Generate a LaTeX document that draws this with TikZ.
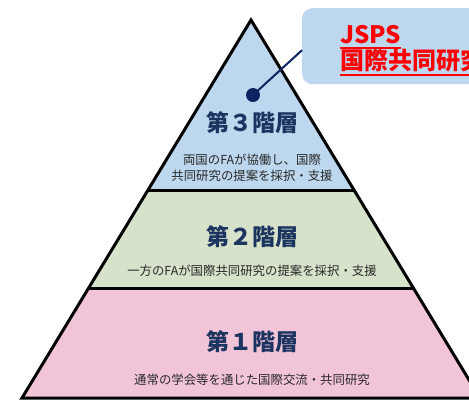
\documentclass[tikz,border=0pt]{standalone}
\usepackage{fontspec}
\setmainfont{Noto Sans CJK JP}
\usetikzlibrary{calc}
\definecolor{tierthreecol}{RGB}{189,215,238}
\definecolor{tiertwocol}{RGB}{214,226,202}
\definecolor{tieronecol}{RGB}{242,196,216}
\definecolor{titlecol}{RGB}{28,52,96}
\definecolor{subcol}{RGB}{40,40,40}
\definecolor{navycol}{RGB}{12,36,97}
\definecolor{jspsred}{RGB}{255,0,0}
\tikzset{
  outline/.style={draw=black,line width=3pt,line join=miter},
  tiertitle/.style={text=titlecol,font=\bfseries\fontsize{23}{27}\selectfont,inner sep=0pt},
  tiersub/.style={text=subcol,font=\fontsize{12.4}{16}\selectfont,align=center,inner sep=0pt},
  calloutbox/.style={fill=tierthreecol,rounded corners=10pt,minimum width=190pt,minimum height=76pt,anchor=north west,inner sep=0pt},
  callouttext/.style={text=jspsred,font=\bfseries\fontsize{24}{28}\selectfont,anchor=base west,inner sep=0pt},
  uline/.style={draw=jspsred,line width=2pt},
}
\begin{document}
\begin{tikzpicture}[x=1pt,y=-1pt]
\useasboundingbox (0,0) rectangle (469,400);
% pyramid
\coordinate (apex) at (251,20);
\coordinate (l3) at (148,190); \coordinate (r3) at (354,190);
\coordinate (l2) at (88.6,288); \coordinate (r2) at (413.4,288);
\coordinate (l1) at (22,398); \coordinate (r1) at (480,398);
\fill[tierthreecol] (apex) -- (r3) -- (l3) -- cycle;
\fill[tiertwocol] (l3) -- (r3) -- (r2) -- (l2) -- cycle;
\fill[tieronecol] (l2) -- (r2) -- (r1) -- (l1) -- cycle;
\draw[outline] (apex) -- (r1) -- (l1) -- cycle;
\draw[outline] (l3) -- (r3);
\draw[outline] (l2) -- (r2);
% texts
\node[tiertitle] (t3) at (252,123) {第３階層};
\node[tiersub] (s3) at (252,168) {両国のFAが協働し、国際\\共同研究の提案を採択・支援};
\node[tiertitle] (t2) at (252,237) {第２階層};
\node[tiersub] (s2) at (252,271) {一方のFAが国際共同研究の提案を採択・支援};
\node[tiertitle] (t1) at (252,342) {第１階層};
\node[tiersub] (s1) at (252,380) {通常の学会等を通じた国際交流・共同研究};
% callout
\node[calloutbox] (box) at (302,8) {};
\node[callouttext] (jsps) at (340,43) {JSPS};
\node[callouttext] (kokusai) at (340,69) {国際共同研究};
\draw[uline] ($(jsps.base west)+(0,4.5)$) -- ($(jsps.base east)+(0,4.5)$);
\draw[uline] ($(kokusai.base west)+(0,5.5)$) -- ($(kokusai.base east)+(0,5.5)$);
\node[circle,fill=navycol,minimum size=14pt,inner sep=0pt] (dot) at (253,95) {};
\draw[navycol,line width=2pt] (dot.center) -- ($(box.west)+(0,4)$);
\end{tikzpicture}
\end{document}
